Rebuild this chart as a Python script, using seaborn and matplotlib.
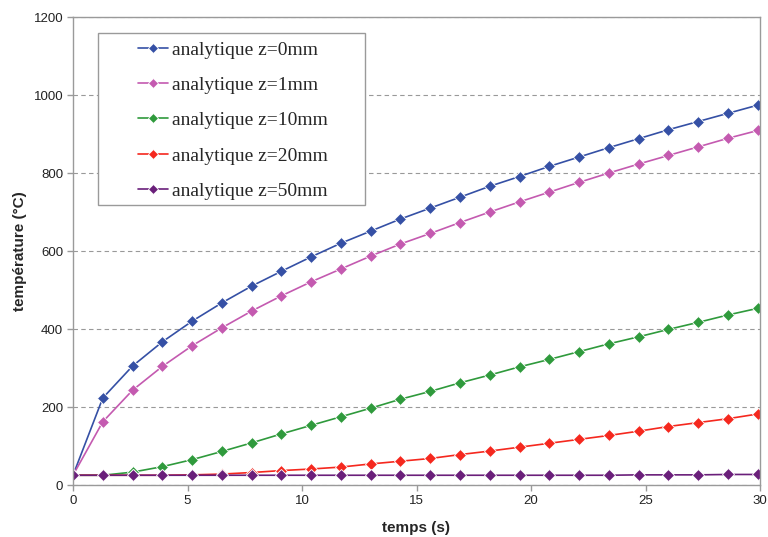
import matplotlib
matplotlib.use("Agg")
import matplotlib.pyplot as plt
from matplotlib.patches import Rectangle
import seaborn as sns
import pandas as pd

# --- data ---
temps = [0, 1.3, 2.6, 3.9, 5.2, 6.5, 7.8, 9.1, 10.4, 11.7, 13.0, 14.3,
         15.6, 16.9, 18.2, 19.5, 20.8, 22.1, 23.4, 24.7, 26.0, 27.3, 28.6, 29.9]

z0 = [25, 223, 305, 367, 420, 467, 510, 548, 585, 620, 651, 682,
      710, 738, 766, 791, 817, 841, 865, 888, 911, 932, 953, 974]
z1 = [25, 162, 243, 304, 357, 403, 446, 485, 521, 554, 587, 618,
      645, 673, 700, 726, 751, 776, 800, 823, 845, 867, 889, 909]
z10 = [25, 25, 33, 47, 65, 86, 108, 131, 153, 175, 197, 220,
       240, 262, 282, 303, 322, 342, 362, 380, 399, 417, 436, 453]
z20 = [25, 25, 25, 25, 26, 28, 32, 37, 41, 46, 54, 61,
       68, 78, 87, 97, 107, 117, 127, 138, 150, 160, 170, 182]
z50 = [25, 25, 25, 25, 25, 25, 25, 25, 25, 25, 25, 25,
       25, 25, 25, 25, 25, 25, 25, 26, 26, 26, 27, 27]

labels = ["analytique z=0mm", "analytique z=1mm", "analytique z=10mm",
          "analytique z=20mm", "analytique z=50mm"]
series = [z0, z1, z10, z20, z50]
colors = ["#3550A5", "#C45AB0", "#2F9A3C", "#F5281E", "#6A1F7A"]

rows = []
for lab, vals in zip(labels, series):
    for t, v in zip(temps, vals):
        rows.append({"temps": t, "temperature": v, "serie": lab})
df = pd.DataFrame(rows)

# --- plot ---
sns.set_style("white")
plt.rcParams["font.family"] = ["Liberation Sans", "DejaVu Sans"]

fig = plt.figure(figsize=(7.68, 5.37), dpi=100)
ax = fig.add_axes([73 / 768, 1 - 485 / 537, 687 / 768, 468 / 537])

sns.lineplot(data=df, x="temps", y="temperature", hue="serie",
             hue_order=labels, palette=colors, marker="D", markersize=6,
             markeredgewidth=0.6, linewidth=1.2, dashes=False, ax=ax)

ax.set_xlim(0, 30)
ax.set_ylim(0, 1200)
ax.set_xticks(range(0, 31, 5))
ax.set_yticks(range(0, 1201, 200))
ax.tick_params(labelsize=9.5, length=4, width=1, color="#9a9a9a",
               direction="out", pad=3, labelcolor="#222222",
               bottom=True, left=True)
ax.yaxis.grid(True, linestyle=(0, (4, 3)), color="#999999", linewidth=0.8)
ax.xaxis.grid(False)
for sp in ax.spines.values():
    sp.set_color("#9a9a9a")
    sp.set_linewidth(1.0)

ax.set_xlabel("temps (s)", fontsize=11, fontweight="bold", labelpad=10)
ax.set_ylabel("température (°C)", fontsize=11, fontweight="bold", labelpad=5)

# legend frame drawn separately so the handles sit well inside it
ax.add_patch(Rectangle((25 / 687, 280 / 468), 267 / 687, 172 / 468,
                       transform=ax.transAxes, facecolor="white",
                       edgecolor="#9a9a9a", linewidth=1.0, zorder=5))
leg = ax.legend(loc="upper left", bbox_to_anchor=(65 / 687, 1 - 24 / 468),
                frameon=False, handlelength=1.55, markerscale=0.8,
                labelspacing=0.91, borderpad=0, handletextpad=0.2,
                borderaxespad=0,
                prop={"family": "Liberation Serif", "size": 14})
leg.set_zorder(6)

fig.savefig("out.png", dpi=100)
